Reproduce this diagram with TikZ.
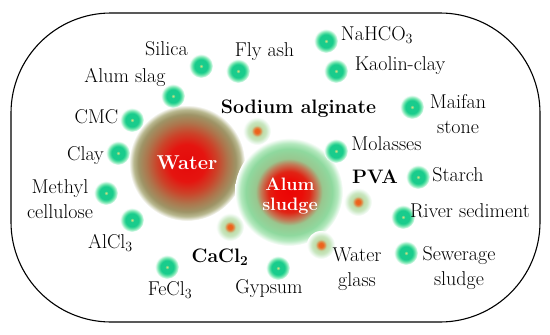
\documentclass[tikz,border=0pt]{standalone}
\pgfdeclareradialshading{gdotshade}{\pgfpoint{0bp}{0bp}}{%
rgb(0bp)=(0.80,0.88,0.50);
rgb(1.5bp)=(0.65,0.86,0.52);
rgb(4bp)=(0.10,0.80,0.55);
rgb(14bp)=(0.10,0.80,0.55);
rgb(19bp)=(0.45,0.90,0.68);
rgb(25bp)=(1,1,1);
rgb(50bp)=(1,1,1)}
\pgfdeclareradialshading{odotshade}{\pgfpoint{0bp}{0bp}}{%
rgb(0bp)=(0.93,0.38,0.10);
rgb(4bp)=(0.93,0.40,0.12);
rgb(7bp)=(0.85,0.60,0.35);
rgb(10bp)=(0.75,0.86,0.66);
rgb(16bp)=(0.78,0.90,0.74);
rgb(21bp)=(0.90,0.96,0.90);
rgb(25bp)=(1,1,1);
rgb(50bp)=(1,1,1)}
\pgfdeclareradialshading{watershade}{\pgfpoint{0bp}{0bp}}{%
rgb(0bp)=(0.90,0.04,0.04);
rgb(8bp)=(0.90,0.08,0.06);
rgb(13bp)=(0.80,0.26,0.16);
rgb(17.5bp)=(0.68,0.46,0.30);
rgb(21bp)=(0.62,0.58,0.40);
rgb(23bp)=(0.72,0.72,0.56);
rgb(25bp)=(1,1,1);
rgb(50bp)=(1,1,1)}
\pgfdeclareradialshading{alumshade}{\pgfpoint{0bp}{0bp}}{%
rgb(0bp)=(0.92,0.02,0.02);
rgb(6bp)=(0.92,0.05,0.03);
rgb(9.5bp)=(0.88,0.14,0.08);
rgb(13bp)=(0.76,0.48,0.34);
rgb(15.5bp)=(0.60,0.78,0.56);
rgb(20bp)=(0.56,0.85,0.62);
rgb(22.5bp)=(0.70,0.91,0.74);
rgb(25bp)=(1,1,1);
rgb(50bp)=(1,1,1)}
\tikzset{
  gdot/.style={circle, minimum size=24pt, inner sep=0pt, shade, shading=gdotshade},
  odot/.style={circle, minimum size=28pt, inner sep=0pt, shade, shading=odotshade},
  lbl/.style={font=\fontsize{20}{24}\selectfont, inner sep=0pt, anchor=base},
  lbl2/.style={font=\fontsize{20}{24.5}\selectfont, inner sep=0pt, align=center, anchor=center},
  blbl/.style={font=\fontsize{19.5}{24}\selectfont\bfseries, inner sep=0pt, anchor=base},
  frame/.style={draw=black, line width=1.1pt, rounded corners=100pt}
}
\begin{document}
\begin{tikzpicture}[x=1pt,y=-1pt]
\useasboundingbox (0,0) rectangle (550,335);
\draw[frame] (11,13) rectangle (540,322);
% big circles
\node[circle, minimum size=116pt, inner sep=0pt, shade, shading=watershade] (water) at (187,163) {};
\node[circle, minimum size=108pt, inner sep=0pt, shade, shading=alumshade] (alum) at (289,192) {};
\node[font=\fontsize{20}{24}\selectfont\bfseries, text=white, inner sep=0pt, anchor=base] (watert) at (187,169) {Water};
\node[font=\fontsize{18}{19.5}\selectfont\bfseries, text=white, inner sep=0pt, align=center] (alumt) at (290,196) {Alum\\sludge};
% green dots
\node[gdot] (dsilica) at (201,66) {};
\node[gdot] (dfly) at (238,71) {};
\node[gdot] (dslag) at (173,96) {};
\node[gdot] (dcmc) at (132,120) {};
\node[gdot] (dclay) at (118,153) {};
\node[gdot] (dmethyl) at (106,193) {};
\node[gdot] (dalcl) at (132,220) {};
\node[gdot] (dfecl) at (167,267) {};
\node[gdot] (dgyp) at (278,268) {};
\node[gdot] (dnahco) at (326,41) {};
\node[gdot] (dkaolin) at (336,71) {};
\node[gdot] (dmaifan) at (412,107) {};
\node[gdot] (dmol) at (336,151) {};
\node[gdot] (dstarch) at (418,177) {};
\node[gdot] (driver) at (403,217) {};
\node[gdot] (dsew) at (406,253) {};
% orange dots
\node[odot] (dsodium) at (257,131) {};
\node[odot] (dcacl) at (230,227) {};
\node[odot] (dpva) at (358,202) {};
\node[odot] (dwg) at (321,245) {};
% labels
\node[lbl] (tsilica) at (166.5,55) {Silica};
\node[lbl] (tfly) at (264.5,56) {Fly ash};
\node[lbl] (tslag) at (125,82) {Alum slag};
\node[lbl] (tcmc) at (96.5,123) {CMC};
\node[lbl] (tclay) at (85.5,160) {Clay};
\node[lbl2] (tmethyl) at (60,199) {Methyl\\cellulose};
\node[lbl] (talcl) at (110.5,248) {AlCl\textsubscript{3}};
\node[lbl] (tfecl) at (170,295) {FeCl\textsubscript{3}};
\node[blbl] (tcacl) at (220,262) {CaCl\textsubscript{2}};
\node[lbl] (tgyp) at (269,293) {Gypsum};
\node[lbl2] (twg) at (357,269) {Water\\glass};
\node[lbl2] (tsew) at (459,268) {Sewerage\\sludge};
\node[lbl] (triver) at (470,217) {River sediment};
\node[lbl] (tstarch) at (458,181) {Starch};
\node[blbl] (tpva) at (375,183) {PVA};
\node[lbl] (tmol) at (386.5,150) {Molasses};
\node[lbl2] (tmaifan) at (458,114) {Maifan\\stone};
\node[blbl] (tsodium) at (298.5,113) {Sodium alginate};
\node[lbl] (tkaolin) at (400,70) {Kaolin-clay};
\node[lbl] (tnahco) at (377,40) {NaHCO\textsubscript{3}};
\end{tikzpicture}
\end{document}
